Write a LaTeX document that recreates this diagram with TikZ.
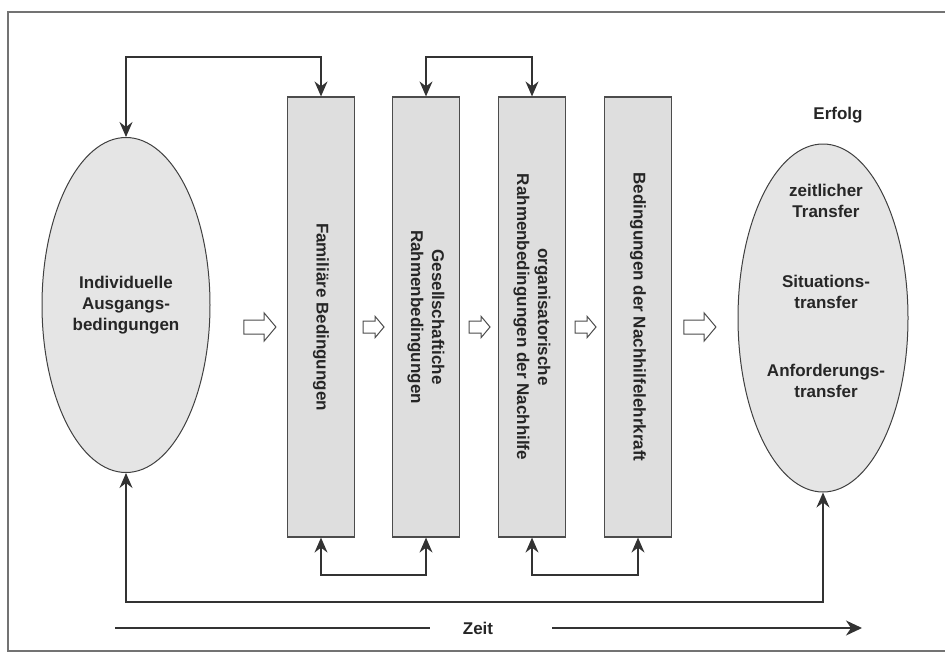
\documentclass[tikz,border=0pt]{standalone}
\usepackage{fontspec}
\setmainfont{Liberation Sans}
\usetikzlibrary{arrows.meta,shapes.geometric,shapes.arrows}

\begin{document}
\begin{tikzpicture}[x=1pt, y=-1pt,
    every node/.style={font=\bfseries\fontsize{17}{21}\selectfont, text=black!85},
    ovalbox/.style={ellipse, draw=black!75, fill=black!10, line width=1pt, inner sep=0pt, align=center},
    stripbox/.style={draw=black!70, fill=black!13, line width=1.2pt, inner sep=0pt,
      minimum width=67pt, minimum height=440pt},
    striptext/.style={rotate=-90, align=center},
    link/.style={draw=black!80, line width=1.2pt,
      {Stealth[length=15pt,width=13pt,inset=5pt]}-{Stealth[length=15pt,width=13pt,inset=5pt]}},
    bigflow/.style={single arrow, draw=black!70, fill=white, line width=1pt, inner sep=6.5pt,
      single arrow head extend=7pt, minimum height=32pt, single arrow tip angle=100},
    smallflow/.style={single arrow, draw=black!70, fill=white, line width=1pt, inner sep=5.5pt,
      single arrow head extend=4.5pt, minimum height=21pt, single arrow tip angle=100},
  ]
  \useasboundingbox (0,0) rectangle (945,653);
  \draw[black!55, line width=1.5pt] (950,12) -- (8,12) -- (8,651) -- (950,651);

  % start and goal
  \node[ovalbox, minimum width=168pt, minimum height=335pt] (ind) at (126,305)
    {Individuelle\\Ausgangs-\\bedingungen};
  \node[ovalbox, minimum width=170pt, minimum height=348pt] (erf) at (823,318) {};
  \node[align=center] (erftext) at (826,291)
    {zeitlicher\\Transfer\\[49pt]Situations-\\transfer\\[47pt]Anforderungs-\\transfer};
  \node (erftitle) at (838,115) {Erfolg};

  % conditions
  \node[stripbox] (r1) at (321,317) {};
  \node[stripbox] (r2) at (426,317) {};
  \node[stripbox] (r3) at (532,317) {};
  \node[stripbox] (r4) at (638,317) {};
  \node[striptext] (l1) at (r1) {Familiäre Bedingungen};
  \node[striptext] (l2) at (r2) {Gesellschaftiche\\Rahmenbedingungen};
  \node[striptext] (l3) at (r3) {organisatorische\\Rahmenbedingungen der Nachhilfe};
  \node[striptext] (l4) at (r4) {Bedingungen der Nachhilfelehrkraft};

  % flow
  \node[bigflow] (f0) at (257,327) {};
  \node[smallflow] (f1) at (371,327) {};
  \node[smallflow] (f2) at (477,327) {};
  \node[smallflow] (f3) at (583,327) {};
  \node[bigflow] (f4) at (697,327) {};

  % feedback lines
  \coordinate (top) at (0,57);
  \coordinate (low) at (0,575);
  \coordinate (base) at (0,602);
  \draw[link] (ind.north) -- (ind.north |- top) -| (r1.north);
  \draw[link] (r2.north) -- (r2.north |- top) -| (r3.north);
  \draw[link] (r1.south) -- (r1.south |- low) -| (r2.south);
  \draw[link] (r3.south) -- (r3.south |- low) -| (r4.south);
  \draw[link] (ind.south) -- (ind.south |- base) -| (erf.south);

  % time axis
  \node (zeit) at (478,628) {Zeit};
  \coordinate (t0) at (115,628);
  \coordinate (t1) at (430,628);
  \coordinate (t2) at (552,628);
  \coordinate (t3) at (862,628);
  \draw[black!80, line width=1.4pt] (t0) -- (t1);
  \draw[black!80, line width=1.4pt, -{Stealth[length=16pt,width=15pt,inset=5pt]}] (t2) -- (t3);
\end{tikzpicture}
\end{document}
